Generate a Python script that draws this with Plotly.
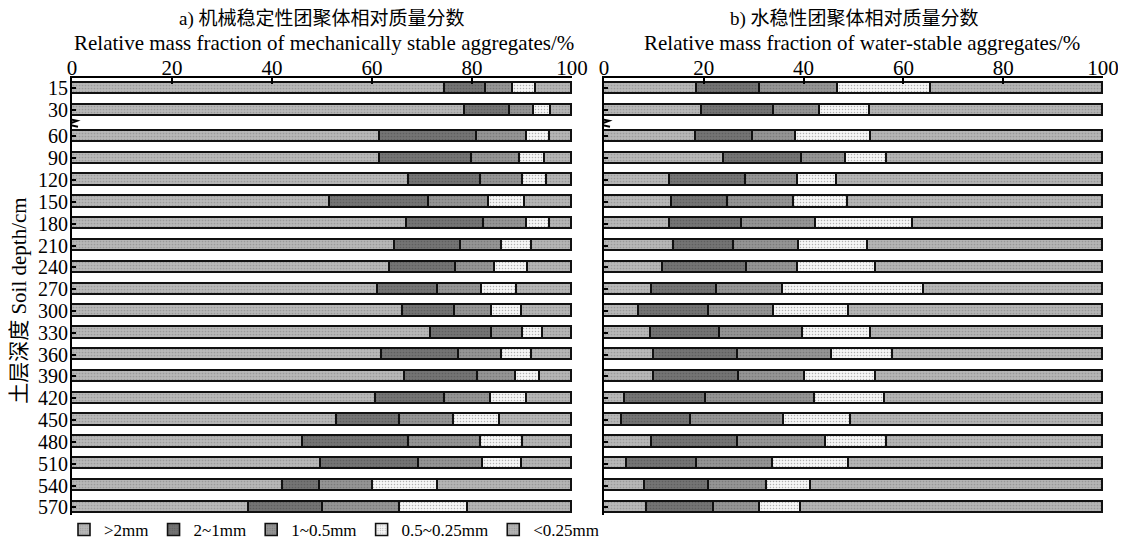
import plotly.graph_objects as go

# ---------------- data ----------------
depths = [15, 30, 60, 90, 120, 150, 180, 210, 240, 270, 300, 330, 360, 390, 420, 450, 480, 510, 540, 570]
classes = [">2mm", "2~1mm", "1~0.5mm", "0.5~0.25mm", "<0.25mm"]

# a) mechanically stable aggregates (%), per class
mech_gt2 = [74.5, 78.6, 61.5, 61.5, 67.4, 51.6, 67.0, 64.6, 63.6, 61.2, 66.1, 71.8, 62.0, 66.6, 60.8, 52.9, 46.1, 49.8, 42.1, 35.3]
mech_2_1 = [8.2, 9.0, 19.5, 18.5, 14.3, 19.8, 15.4, 13.1, 13.1, 11.9, 10.4, 12.1, 15.3, 14.6, 13.8, 12.6, 21.3, 19.6, 7.4, 14.9]
mech_1_05 = [5.5, 4.8, 9.9, 9.6, 8.4, 11.9, 8.5, 8.2, 7.9, 8.9, 7.5, 6.3, 8.7, 7.5, 9.1, 10.8, 14.3, 12.7, 10.7, 15.4]
mech_05_025 = [4.5, 3.3, 4.6, 4.9, 4.9, 7.3, 4.6, 6.1, 6.6, 6.9, 5.9, 4.0, 5.9, 4.8, 7.2, 9.2, 8.5, 7.9, 13.0, 13.5]
mech_lt025 = [7.3, 4.3, 4.5, 5.5, 5.0, 9.4, 4.5, 8.0, 8.8, 11.1, 10.1, 5.8, 8.1, 6.5, 9.1, 14.5, 9.8, 10.0, 26.8, 20.9]

# b) water-stable aggregates (%), per class
water_gt2 = [18.7, 19.6, 18.4, 24.0, 13.2, 13.6, 13.3, 14.0, 11.8, 9.6, 7.1, 9.5, 10.0, 10.1, 4.2, 3.7, 9.6, 4.7, 8.2, 8.6]
water_2_1 = [12.5, 14.4, 11.4, 15.7, 15.2, 11.3, 14.4, 12.0, 16.9, 13.1, 14.0, 13.7, 16.9, 17.0, 16.3, 13.7, 17.2, 13.9, 12.8, 13.5]
water_1_05 = [15.6, 9.3, 8.7, 8.7, 10.4, 13.1, 14.8, 13.0, 10.1, 13.1, 13.0, 16.6, 18.8, 13.2, 21.7, 18.6, 17.6, 15.3, 11.6, 9.1]
water_05_025 = [18.8, 10.1, 15.0, 8.4, 7.9, 10.8, 19.5, 13.9, 15.7, 28.3, 14.9, 13.8, 12.2, 14.3, 14.2, 13.5, 12.4, 15.2, 8.8, 8.3]
water_lt025 = [34.4, 46.6, 46.5, 43.2, 53.3, 51.2, 38.0, 47.1, 45.5, 35.9, 51.0, 46.4, 42.1, 45.4, 43.6, 50.5, 43.2, 50.9, 58.6, 60.5]

x_ticks = [0, 20, 40, 60, 80, 100]
break_after = 30  # axis break between 30 and 60 cm

title_a_cn = "a) 机械稳定性团聚体相对质量分数"
title_a_en = "Relative mass fraction of mechanically stable aggregates/%"
title_b_cn = "b) 水稳性团聚体相对质量分数"
title_b_en = "Relative mass fraction of water-stable aggregates/%"
y_title = "土层深度 Soil depth/cm"

# ---------------- styling ----------------
SERIF = "Liberation Serif, Times New Roman, Noto Sans CJK SC, serif"
W, H = 1118, 531          # page body has an 8px margin
GAP = 0.2
positions = [i + (GAP if d > break_after else 0) for i, d in enumerate(depths)]

styles = [
    dict(color="#b8b8b8", fg="#9a9a9a", shape=".", size=3, sol=0.25),
    dict(color="#747474", fg="#5e5e5e", shape=".", size=3, sol=0.25),
    dict(color="#959595", fg="#7a7a7a", shape=".", size=3, sol=0.25),
    dict(color="#f6f6f6", fg="#b0b0b0", shape=".", size=3, sol=0.2),
    dict(color="#b5b5b5", fg="#979797", shape=".", size=3, sol=0.25),
]

mech = [mech_gt2, mech_2_1, mech_1_05, mech_05_025, mech_lt025]
water = [water_gt2, water_2_1, water_1_05, water_05_025, water_lt025]

fig = go.Figure()
for k, (name, st) in enumerate(zip(classes, styles)):
    for panel, (vals, xa, ya) in enumerate([(mech[k], "x", "y"), (water[k], "x2", "y2")]):
        fig.add_trace(go.Bar(
            x=vals, y=positions, orientation="h", name=name,
            xaxis=xa, yaxis=ya, width=0.52,
            legendgroup=name, showlegend=(panel == 0),
            marker=dict(color=st["color"], line=dict(color="#111111", width=1.6),
                        pattern=dict(shape=st["shape"], fgcolor=st["fg"], bgcolor=st["color"],
                                     size=st["size"], solidity=st["sol"], fillmode="replace")),
            hoverinfo="x+name",
        ))

yrange = [positions[-1] + 0.35, -0.48]
common_x = dict(range=[0, 100], side="top", tickvals=x_ticks, ticks="inside", ticklen=6, tickwidth=2,
                tickcolor="black", showline=True, linewidth=2, linecolor="black", showgrid=False,
                zeroline=False, tickfont=dict(family=SERIF, size=21, color="black"), fixedrange=True,
                automargin=False, ticklabelstandoff=-7)
common_y = dict(range=yrange, tickvals=positions, ticks="inside", ticklen=4, tickwidth=2,
                tickcolor="black", showline=True, linewidth=2, linecolor="black", showgrid=False,
                zeroline=False, tickfont=dict(family=SERIF, size=20, color="black"), fixedrange=True,
                automargin=False, ticklabelstandoff=-2)

fig.update_layout(
    width=W, height=H,
    margin=dict(l=0, r=0, t=70, b=24, autoexpand=False),
    paper_bgcolor="white", plot_bgcolor="white",
    barmode="stack", bargap=0,
    font=dict(family=SERIF, color="black"),
    xaxis=dict(domain=[64 / W, 564 / W], anchor="y", **common_x),
    xaxis2=dict(domain=[596 / W, 1095 / W], anchor="y2", **common_x),
    yaxis=dict(domain=[0, 1], anchor="x", ticktext=[str(d) for d in depths], **common_y),
    yaxis2=dict(domain=[0, 1], anchor="x2", showticklabels=False, **common_y),
    legend=dict(orientation="h", x=56 / W, xanchor="left", y=0.007, yanchor="top",
                font=dict(family=SERIF, size=17, color="black"), traceorder="normal",
                itemwidth=30, tracegroupgap=0, bgcolor="rgba(0,0,0,0)"),
    showlegend=True,
)

# titles
ann = [
    (314 / W, 1.135, title_a_cn, 19), (316 / W, 1.080, title_a_en, 21),
    (846 / W, 1.135, title_b_cn, 19), (854 / W, 1.080, title_b_en, 21),
]
for x, y, t, s in ann:
    fig.add_annotation(x=x, y=y, xref="paper", yref="paper", text=t, showarrow=False,
                       xanchor="center", yanchor="middle", font=dict(family=SERIF, size=s, color="black"))
fig.add_annotation(x=11 / W, y=0.49, xref="paper", yref="paper", text=y_title, showarrow=False,
                   textangle=-90, xanchor="center", yanchor="middle", borderpad=0,
                   font=dict(family=SERIF, size=21, color="black"))

# axis-break squiggles on the left axis of each panel
yb = (positions[1] + positions[2]) / 2
for xr, yr in [("x", "y"), ("x2", "y2")]:
    path = (f"M -1.2 {yb - 0.22} L 1.0 {yb - 0.12} L -1.0 {yb + 0.05} L 1.2 {yb + 0.15}")
    fig.add_shape(type="path", path=path, xref=xr, yref=yr,
                  line=dict(color="black", width=2))

fig.write_html("out.html")
